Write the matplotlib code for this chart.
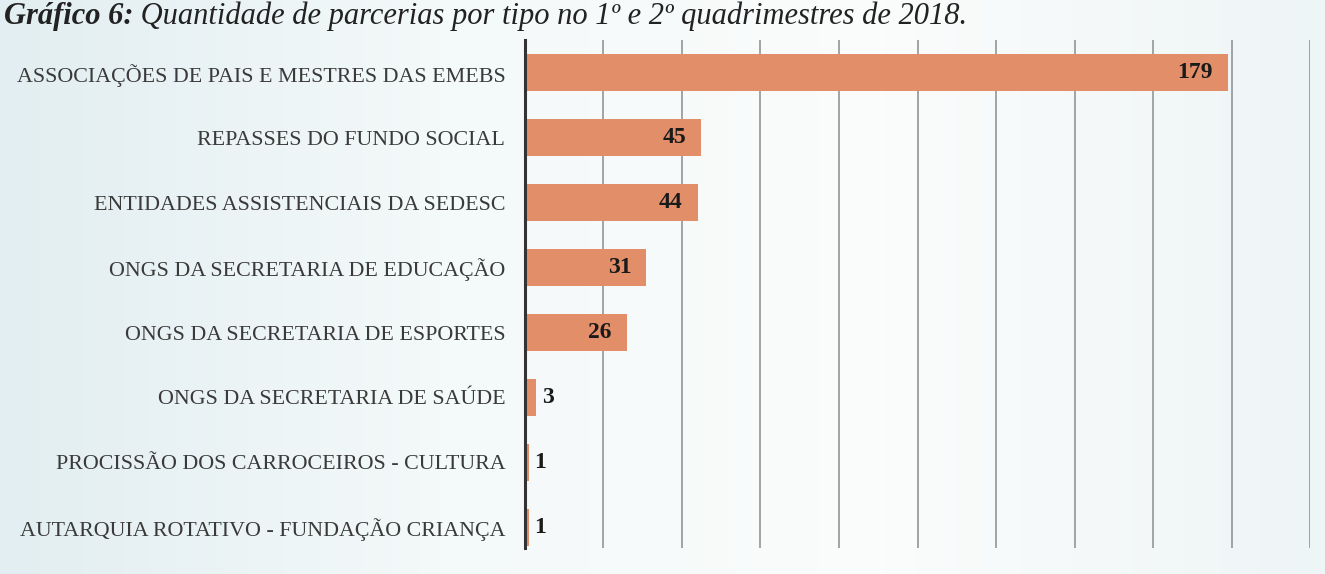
import numpy as np
import matplotlib.pyplot as plt
from matplotlib.colors import LinearSegmentedColormap

categorias = [
    "ASSOCIAÇÕES DE PAIS E MESTRES DAS EMEBS",
    "REPASSES DO FUNDO SOCIAL",
    "ENTIDADES ASSISTENCIAIS DA SEDESC",
    "ONGS DA SECRETARIA DE EDUCAÇÃO",
    "ONGS DA SECRETARIA DE ESPORTES",
    "ONGS DA SECRETARIA DE SAÚDE",
    "PROCISSÃO DOS CARROCEIROS - CULTURA",
    "AUTARQUIA ROTATIVO - FUNDAÇÃO CRIANÇA",
]
parcerias = [179, 45, 44, 31, 26, 3, 1, 1]
titulo_negrito = "Gráfico 6:"
titulo_resto = " Quantidade de parcerias por tipo no 1º e 2º quadrimestres de 2018."

plt.rcParams['font.family'] = ['Liberation Serif', 'DejaVu Serif']

fundo = '#f1f7f8'
fig = plt.figure(figsize=(13.25, 5.74), dpi=100, facecolor=fundo)

# fundo levemente degradê (papel escaneado)
bg = fig.add_axes([0, 0, 1, 1], zorder=-10)
cmap_bg = LinearSegmentedColormap.from_list('bg', ['#e2eef1', '#f4f9f9', '#fbfcfc', '#eef5f6'])
bg.imshow(np.linspace(0, 1, 256)[None, :], aspect='auto', cmap=cmap_bg, extent=[0, 1, 0, 1])
bg.axis('off')

ax = fig.add_axes([0.396, 0.045, 0.593, 0.885])
ax.set_facecolor('none')

y = np.arange(len(categorias))
ax.barh(y, parcerias, height=0.58, color='#e28f69', zorder=2)

# valores: dentro da barra quando cabe, fora quando a barra é curta
for yi, v in zip(y, parcerias):
    if v >= 10:
        ax.annotate(str(v), (v, yi), xytext=(-11, 0), textcoords='offset points',
                    ha='right', va='center', fontsize=17, fontweight='bold',
                    color='#1a1a1a', zorder=3)
    else:
        ax.annotate(str(v), (v, yi), xytext=(4, 0), textcoords='offset points',
                    ha='left', va='center', fontsize=17, fontweight='bold',
                    color='#1a1a1a', zorder=3)

ax.set_xlim(0, 200)
ax.set_ylim(7.32, -0.5)
ax.set_xticks(np.arange(20, 201, 20))
ax.xaxis.grid(True, color='#8c8c8c', linewidth=1.1, zorder=0)
ax.tick_params(axis='x', length=0, labelbottom=False)
ax.set_yticks(y)
ax.set_yticklabels(categorias, fontsize=15.8, color='#3a3a3a')
ax.tick_params(axis='y', length=0, pad=14)
for s in ['top', 'right', 'bottom']:
    ax.spines[s].set_visible(False)
ax.spines['left'].set_color('#333333')
ax.spines['left'].set_linewidth(2.2)

# título no topo
base = 1 - 24 / 574
t = fig.text(0.003, base, titulo_negrito, fontsize=22, fontweight='bold',
             fontstyle='italic', color='#222222', va='baseline')
fig.canvas.draw()
bb = t.get_window_extent()
fig.text(bb.x1 / fig.bbox.width, base, titulo_resto, fontsize=22,
         fontstyle='italic', color='#222222', va='baseline')

fig.savefig('out.png', dpi=100, facecolor=fundo)
